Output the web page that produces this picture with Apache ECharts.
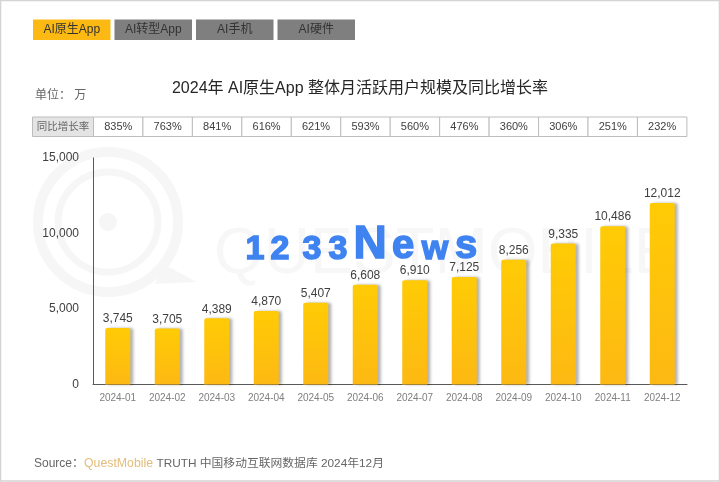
<!DOCTYPE html>
<html><head><meta charset="utf-8">
<style>html,body{margin:0;padding:0;background:#fff}#c{width:720px;height:482px}</style>
<script src="https://cdn.jsdelivr.net/npm/echarts@6/dist/echarts.min.js"></script>
</head><body><div id="c"></div>
<script>
const months = ['2024-01','2024-02','2024-03','2024-04','2024-05','2024-06','2024-07','2024-08','2024-09','2024-10','2024-11','2024-12'];
const users = [3745,3705,4389,4870,5407,6608,6910,7125,8256,9335,10486,12012];
const yoy = ['835%','763%','841%','616%','621%','593%','560%','476%','360%','306%','251%','232%'];
const tabs = ['AI原生App','AI转型App','AI手机','AI硬件'];
const FF = '"Liberation Sans","Noto Sans CJK SC",sans-serif';
const chart = echarts.init(document.getElementById('c'), null, {renderer:'canvas'});
const G = [];
// frame
G.push({type:'rect',z:-10,shape:{x:0.5,y:0.5,width:719,height:480.5},style:{fill:'#fff',stroke:'#d4d4d4',lineWidth:1.5}});
// watermark logo
const wm = '#f6f6f6';
G.push({type:'circle',z:-5,shape:{cx:108,cy:222,r:70},style:{fill:'none',stroke:wm,lineWidth:10}});
G.push({type:'circle',z:-5,shape:{cx:108,cy:222,r:50},style:{fill:'none',stroke:wm,lineWidth:7}});
G.push({type:'circle',z:-5,shape:{cx:108,cy:222,r:9},style:{fill:wm}});
G.push({type:'polygon',z:-5,shape:{points:[[165,265],[197,282],[155,284]]},style:{fill:wm}});
G.push({type:'text',z:-5,style:{x:214,y:287,text:'QUESTMOBILE',fill:'#f7f7f7',font:'64px '+FF,verticalAlign:'bottom'}});
// overlay mark
const glyphs=[['1',255,34],['2',280,34],['3',312,34],['3',338,34],['N',370,46],['e',403,40],['w',435,34],['s',466,40]];
glyphs.forEach(g=>G.push({type:'text',z:20,style:{x:g[1],y:259+g[2]*0.21,text:g[0],fill:'#3f83f1',stroke:'#3f83f1',lineWidth:1.5,
  font:'bold '+g[2]+'px '+FF,align:'center',verticalAlign:'bottom'}}));
// tabs
tabs.forEach((t,i)=>{
  const x=33+i*81.5;
  G.push({type:'rect',shape:{x:x,y:19.5,width:77.5,height:20.5},style:{fill:i===0?'#fdb913':'#7f7f7f'}});
  G.push({type:'text',style:{x:x+38.75,y:29.7,text:t,fill:'#333',font:'12px '+FF,align:'center',verticalAlign:'middle'}});
});
G.push({type:'text',style:{x:35,y:96,text:'单位： 万',fill:'#666',font:'12px '+FF,verticalAlign:'middle'}});
// yoy table
const tx=93.5,cw=49.45,ty=117,th=19.5;
G.push({type:'rect',shape:{x:32.5,y:ty,width:61,height:th},style:{fill:'#e4e4e4',stroke:'#bdbdbd',lineWidth:1}});
G.push({type:'text',style:{x:63,y:ty+th/2,text:'同比增长率',fill:'#666',font:'10.5px '+FF,align:'center',verticalAlign:'middle'}});
yoy.forEach((v,i)=>{
  G.push({type:'rect',shape:{x:tx+i*cw,y:ty,width:cw,height:th},style:{fill:'#fff',stroke:'#bdbdbd',lineWidth:1}});
  G.push({type:'text',style:{x:tx+(i+.5)*cw,y:ty+th/2,text:v,fill:'#404040',font:'11px '+FF,align:'center',verticalAlign:'middle'}});
});
// source
G.push({type:'text',style:{x:34,y:464,text:'Source：',fill:'#666',font:'12px '+FF,verticalAlign:'middle'}});
G.push({type:'text',style:{x:84,y:464,text:'QuestMobile',fill:'#e3bc7a',font:'12.3px '+FF,verticalAlign:'middle'}});
G.push({type:'text',style:{x:156.5,y:464,text:'TRUTH 中国移动互联网数据库 2024年12月',fill:'#666',font:'11.8px '+FF,verticalAlign:'middle'}});
chart.setOption({
  animation:false,
  backgroundColor:'transparent',
  textStyle:{fontFamily:FF},
  title:{text:'2024年 AI原生App 整体月活跃用户规模及同比增长率',left:'center',top:76,
    textStyle:{fontSize:16,fontWeight:'normal',color:'#262626',fontFamily:FF}},
  graphic:{elements:G},
  grid:{left:93,right:33,top:158,bottom:97.5,containLabel:false},
  xAxis:{type:'category',data:months,
    axisTick:{show:false},axisLine:{lineStyle:{color:'#595959',width:1}},
    axisLabel:{color:'#7f7f7f',fontSize:10,margin:9,interval:0,fontFamily:FF}},
  yAxis:{type:'value',min:0,max:15000,interval:5000,splitLine:{show:false},
    axisTick:{show:false},axisLine:{show:true,lineStyle:{color:'#595959',width:1}},
    axisLabel:{color:'#404040',fontSize:12,margin:14,fontFamily:FF,
      formatter:v=>v.toLocaleString('en-US')}},
  series:[{type:'bar',data:users,barWidth:25,z:5,
    itemStyle:{borderRadius:[2,2,0,0],
      color:new echarts.graphic.LinearGradient(0,0,0,1,[{offset:0,color:'#ffcb05'},{offset:1,color:'#fdb913'}]),
      shadowColor:'rgba(0,0,0,0.3)',shadowBlur:3,shadowOffsetX:3,shadowOffsetY:0},
    label:{show:true,position:'top',distance:3,color:'#404040',fontSize:12,fontFamily:FF,
      formatter:p=>p.value.toLocaleString('en-US')}}]
});
</script></body></html>
